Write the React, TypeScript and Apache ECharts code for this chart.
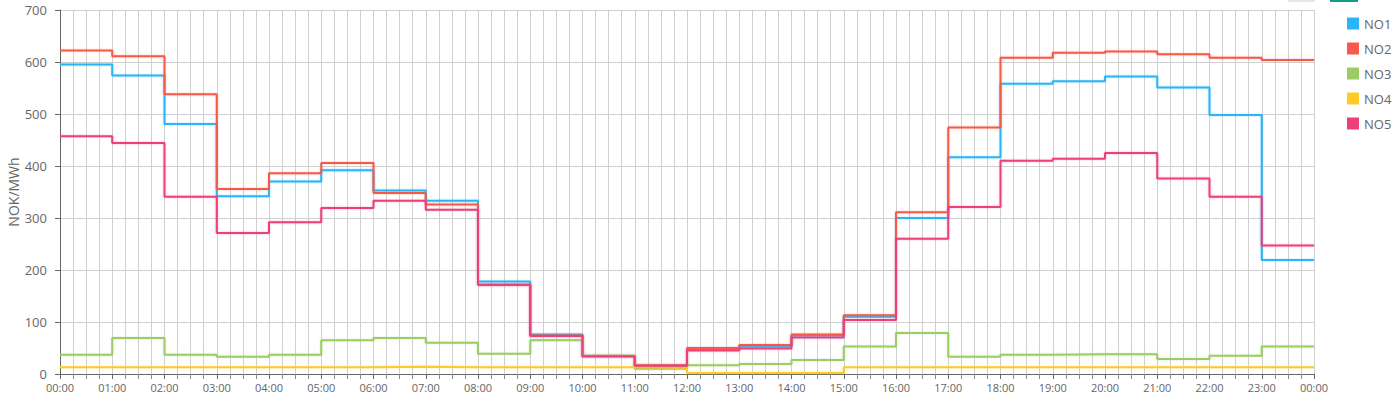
import React, { useEffect, useRef } from "react";
import * as echarts from "echarts";

const hours = ["00:00","01:00","02:00","03:00","04:00","05:00","06:00","07:00","08:00","09:00","10:00","11:00","12:00","13:00","14:00","15:00","16:00","17:00","18:00","19:00","20:00","21:00","22:00","23:00","00:00"];
const seriesNames = ["NO1", "NO2", "NO3", "NO4", "NO5"];
const colors = ["#29B6F6", "#F55A4A", "#9CCC65", "#FFCA28", "#EC407A"];

const no1 = [595, 574, 481, 342, 370, 392, 353, 333, 178, 76, 34, 16, 48, 53, 74, 110, 300, 417, 558, 563, 572, 551, 498, 219];
const no2 = [622, 611, 538, 356, 386, 406, 348, 326, 172, 74, 34, 17, 50, 56, 76, 113, 311, 474, 608, 618, 620, 615, 608, 604];
const no3 = [37, 69, 37, 33, 37, 65, 69, 60, 39, 65, 35, 10, 17, 19, 27, 53, 79, 33, 37, 38, 38, 29, 35, 53];
const no4 = [13, 13, 13, 13, 13, 13, 14, 13, 13, 13, 13, 12, 2, 2, 2, 13, 13, 13, 13, 13, 13, 13, 13, 13];
const no5 = [457, 444, 341, 271, 292, 319, 333, 316, 171, 73, 34, 16, 45, 49, 70, 104, 260, 321, 410, 414, 425, 376, 341, 247];
const allValues = [no1, no2, no3, no4, no5];

export default function App() {
  const ref = useRef<HTMLDivElement>(null);
  useEffect(() => {
    document.body.style.margin = "0";
    if (!ref.current) return;
    const chart = echarts.init(ref.current, null, { renderer: "svg" });
    const font = "'Open Sans', 'Noto Sans', sans-serif";
    const toData = (vals: number[]) => {
      const d: number[][] = vals.map((v, i) => [i, v]);
      d.push([vals.length, vals[vals.length - 1]]);
      return d;
    };
    chart.setOption({
      animation: false,
      textStyle: { fontFamily: font },
      grid: { left: 60, right: 86, top: 10, bottom: 26, containLabel: false, outerBoundsMode: "none" },
      legend: {
        orient: "vertical",
        left: 1342,
        top: 12,
        itemWidth: 12,
        itemHeight: 12,
        itemGap: 12,
        icon: "rect",
        data: seriesNames,
        textStyle: { color: "#666", fontSize: 13, fontFamily: font },
      },
      graphic: [
        { type: "rect", shape: { x: 1288, y: 0, width: 27, height: 2 }, style: { fill: "#e6e6e6" } },
        { type: "rect", shape: { x: 1330, y: 0, width: 28, height: 2 }, style: { fill: "#17998f" } },
      ],
      xAxis: {
        type: "value",
        min: 0,
        max: 24,
        interval: 1,
        axisLine: { show: true, lineStyle: { color: "#666" } },
        axisTick: { show: true, length: 5, lineStyle: { color: "#666" } },
        minorTick: { show: true, splitNumber: 4, length: 5, lineStyle: { color: "#888" } },
        splitLine: { show: true, lineStyle: { color: "#d0d0d0" } },
        minorSplitLine: { show: true, lineStyle: { color: "#d0d0d0" } },
        axisLabel: {
          color: "#666",
          fontSize: 11,
          margin: 8,
          fontFamily: font,
          formatter: (v: number) => hours[Math.round(v)] ?? "",
        },
      },
      yAxis: {
        type: "value",
        min: 0,
        max: 700,
        interval: 100,
        name: "NOK/MWh",
        nameLocation: "middle",
        nameGap: 40,
        nameMoveOverlap: false,
        nameTextStyle: { color: "#666", fontSize: 14, fontFamily: font },
        axisLine: { show: true, lineStyle: { color: "#666" } },
        axisTick: { show: true, length: 5, lineStyle: { color: "#666" } },
        splitLine: { show: true, lineStyle: { color: "#d0d0d0" } },
        axisLabel: { color: "#666", fontSize: 13, margin: 13, fontFamily: font },
      },
      series: seriesNames.map((name, i) => ({
        name,
        type: "line",
        step: "end",
        showSymbol: false,
        symbol: "none",
        color: colors[i],
        lineStyle: { width: 2, color: colors[i], shadowColor: colors[i] + "55", shadowBlur: 2 },
        data: toData(allValues[i]),
      })),
    });
    return () => chart.dispose();
  }, []);
  return <div ref={ref} style={{ width: 1400, height: 400 }} />;
}
